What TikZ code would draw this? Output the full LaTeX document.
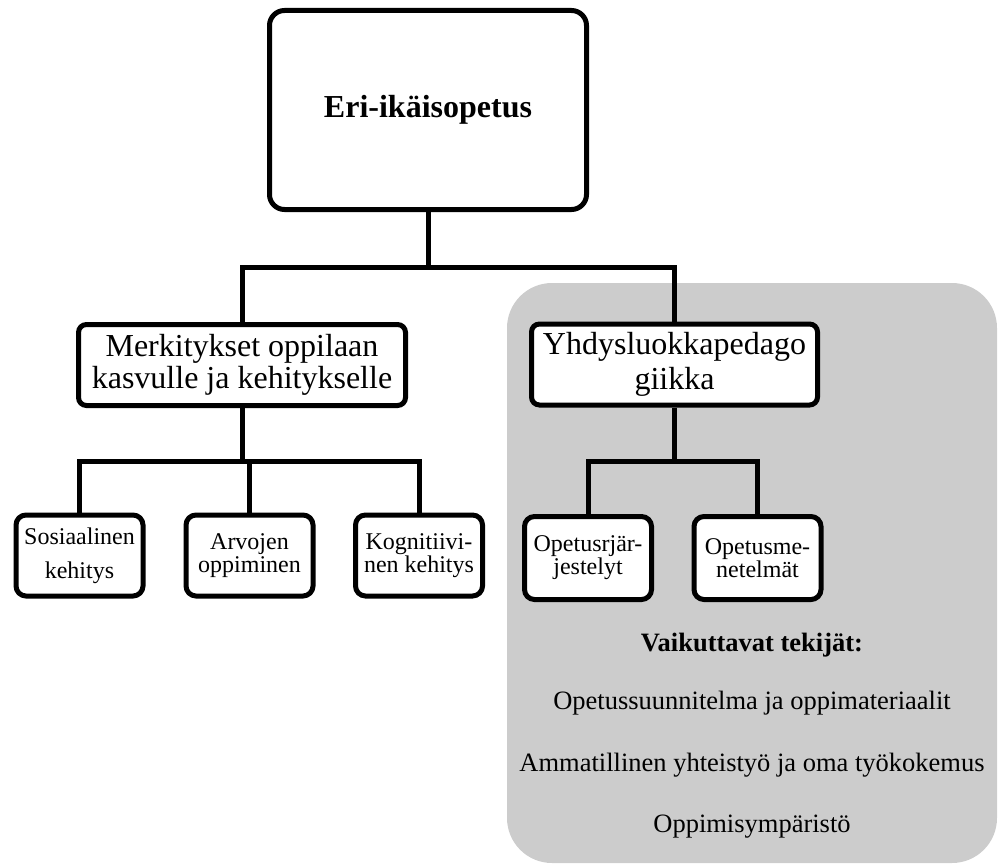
\documentclass[tikz,border=0pt]{standalone}
\usepackage{fontspec}
\setmainfont{Liberation Serif}
\usetikzlibrary{positioning}

\begin{document}
\begin{tikzpicture}
[x=1pt, y=-1pt, line width=5pt,
 box/.style={draw, fill=white, rounded corners=8pt, align=center, inner sep=0pt},
 mid/.style={box, minimum height=81pt, font=\fontsize{32}{33}\selectfont},
 leaf/.style={box, rounded corners=10pt, minimum width=127pt, minimum height=81pt, font=\fontsize{24}{23}\selectfont},
 note/.style={font=\fontsize{26.5}{30}\selectfont}]
\useasboundingbox (0,0) rectangle (1004,864);
% grey area
\fill[black!20, rounded corners=45pt] (507,283) rectangle (997,863);
\node[box, rounded corners=15pt, minimum width=317pt, minimum height=199pt,
      font=\bfseries\fontsize{32}{35}\selectfont] (root) at (428,110) {Eri-ikäisopetus};
\node[mid, minimum width=327pt, font=\fontsize{32}{32}\selectfont] (merk) at (242,365) {Merkitykset oppilaan\\kasvulle ja kehitykselle};
\node[mid, minimum width=286pt, font=\fontsize{32}{35}\selectfont] (yhd) at (674.5,364.5) {Yhdysluokkapedago\\giikka};
\node[leaf, font=\fontsize{24}{34}\selectfont] (sos) at (79.5,555.5) {Sosiaalinen\\kehitys};
\node[leaf] (arv) at (249.5,555.5) {Arvojen\\oppiminen};
\node[leaf] (kog) at (419,555.5) {Kognitiivi-\\nen kehitys};
\node[leaf, minimum height=83pt] (ope1) at (588,558) {Opetusrjär-\\jestelyt};
\node[leaf, minimum height=83pt] (ope2) at (757.5,558) {Opetusme-\\netelmät};
% connectors
\draw (root.south) -- ++(0,55) coordinate (j1);
\draw (merk.north) |- (j1) -| (yhd.north);
\draw (merk.south) -- ++(0,53) coordinate (j2);
\draw (sos.north) |- (j2) -| (kog.north);
\draw (arv.north) -- (arv.north |- j2);
\draw (yhd.south) -- ++(0,54) coordinate (j3);
\draw (ope1.north) |- (j3) -| (ope2.north);
% factors
\node[note, font=\bfseries\fontsize{26.5}{30}\selectfont] (vt) at (752,645) {Vaikuttavat tekijät:};
\node[note] (f1) at (752,703) {Opetussuunnitelma ja oppimateriaalit};
\node[note] (f2) at (752,765) {Ammatillinen yhteistyö ja oma työkokemus};
\node[note] (f3) at (752,827) {Oppimisympäristö};
\end{tikzpicture}
\end{document}
